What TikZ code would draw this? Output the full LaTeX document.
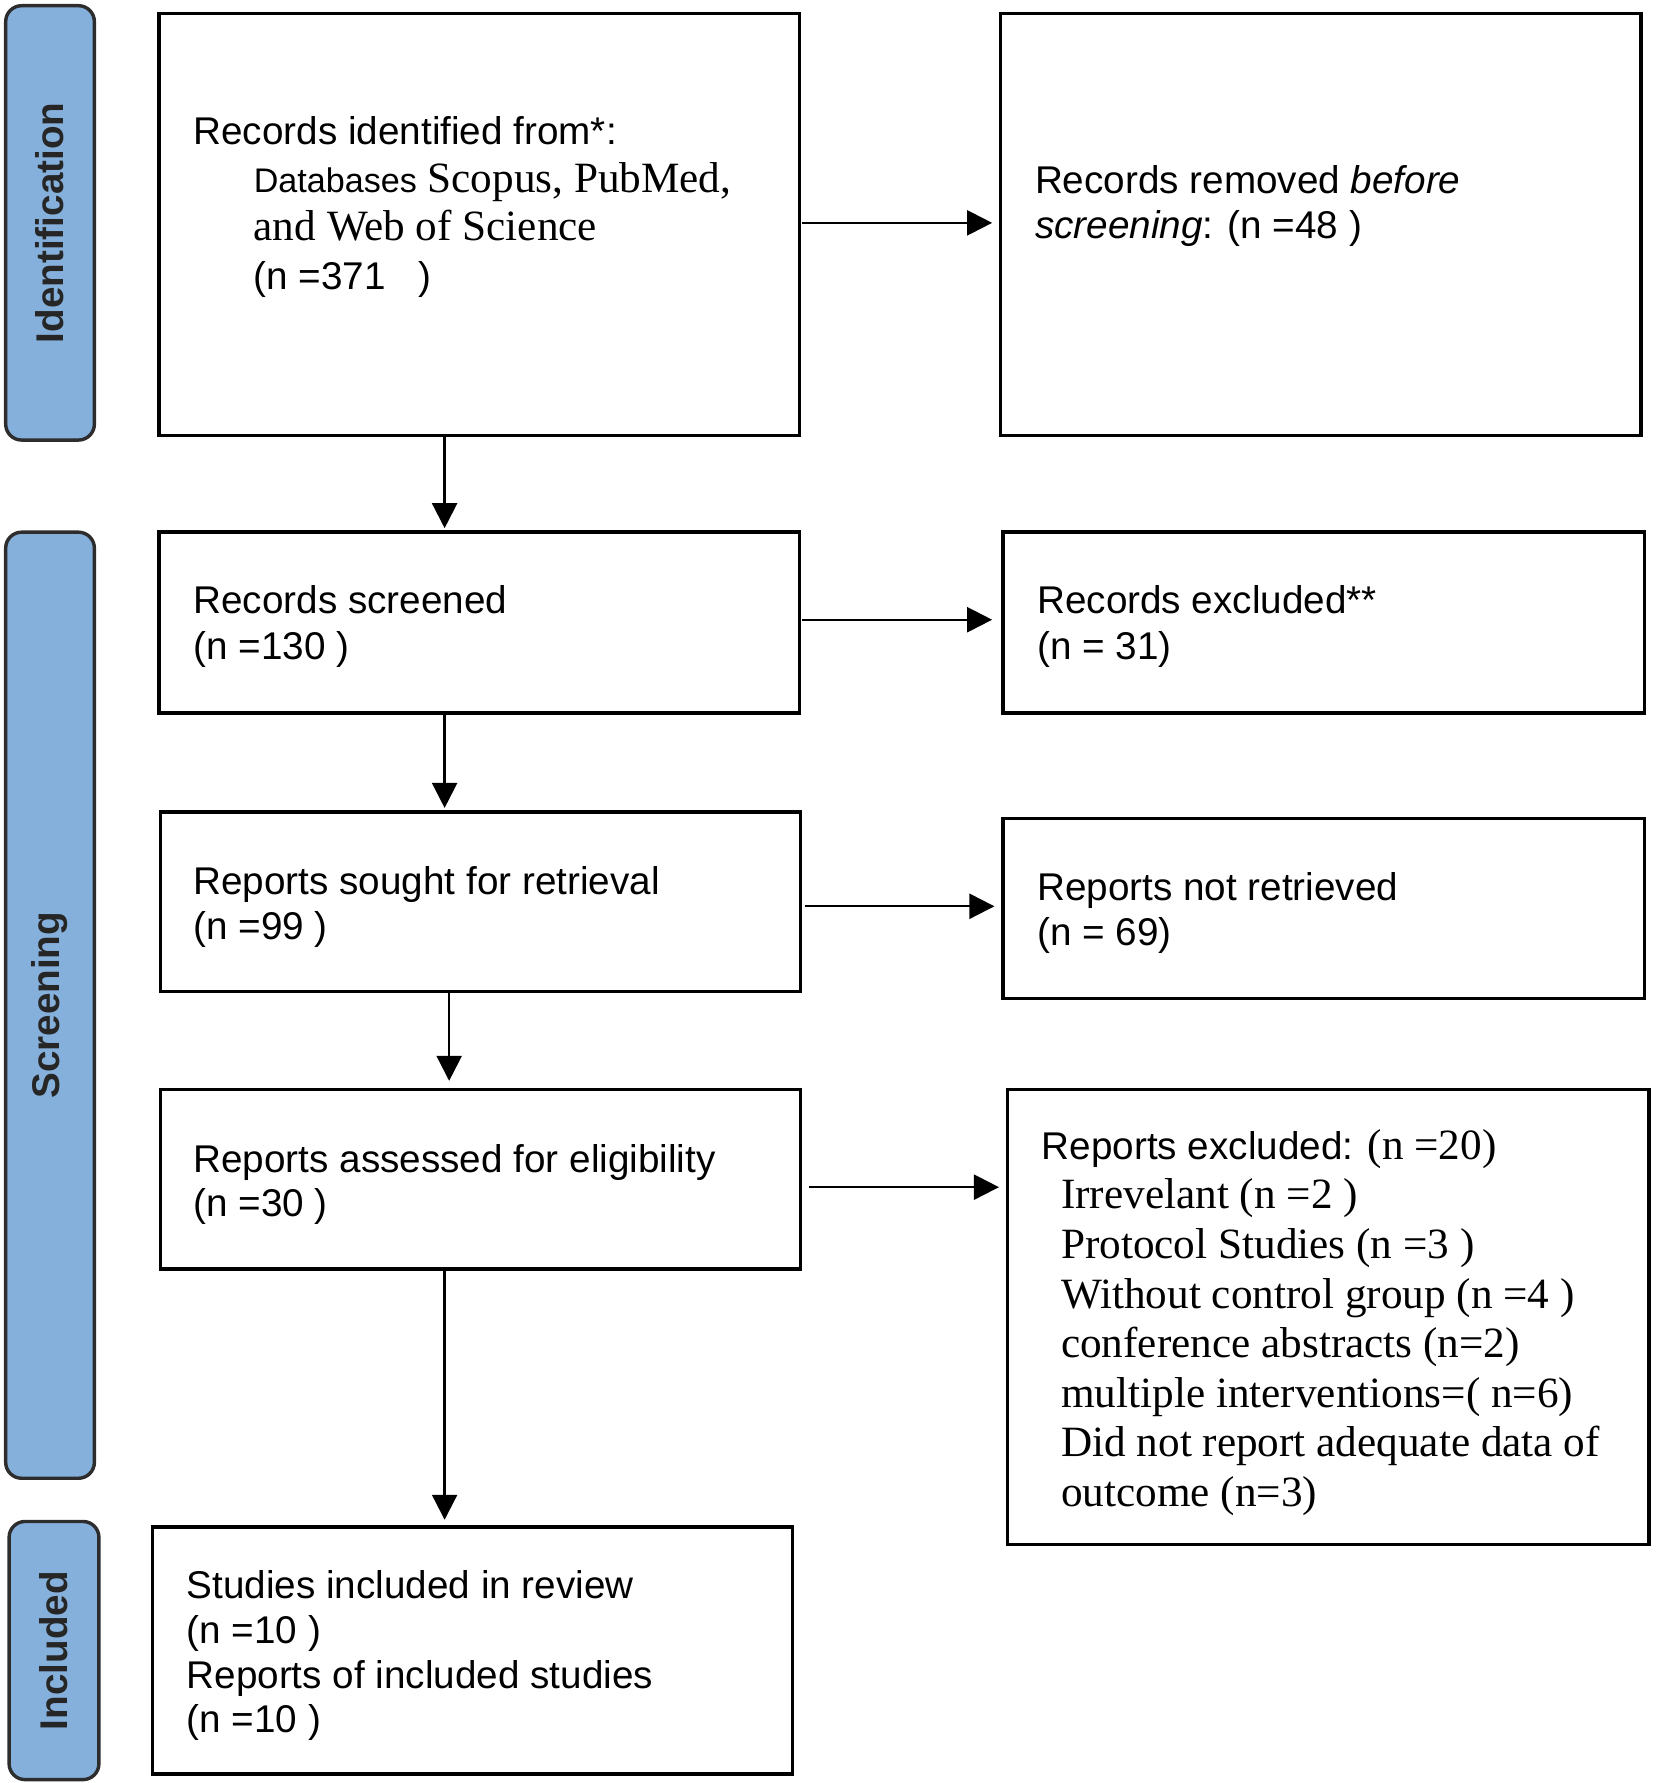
\documentclass[tikz,border=0pt]{standalone}
\usepackage{fontspec}
\setmainfont{Liberation Sans}
\newfontfamily\tms{Liberation Serif}
\usetikzlibrary{arrows.meta}
\definecolor{barblue}{RGB}{133,176,220}
\definecolor{bardark}{RGB}{45,45,45}
\begin{document}
\begin{tikzpicture}[x=1pt,y=1pt,
  box/.style={draw=black, line width=3pt, inner sep=0pt, fill=white},
  bar/.style={draw=bardark, line width=3pt, fill=barblue, rounded corners=14pt, inner sep=0pt},
  txt/.style={anchor=north west, inner sep=0pt, align=left},
  arr/.style={line width=2pt, -{Triangle[length=22pt,width=22pt]}},
  lab/.style={rotate=90, inner sep=0pt, text=black!85, font=\fontsize{34}{40}\selectfont\bfseries}]
\useasboundingbox (0,0) rectangle (1456,-1568);
\def\sz#1#2{\fontsize{#1}{#2}\selectfont}
% side bars
\node[bar, minimum width=78pt, minimum height=382pt] (bid) at (44,-196) {};
\node[bar, minimum width=78pt, minimum height=832pt] (bsc) at (44,-884) {};
\node[bar, minimum width=79pt, minimum height=227pt] (bin) at (47.5,-1451.5) {};
\node[lab] (lid) at (bid.center) {Identification};
\node[lab] (lsc) at (bsc.center) {Screening};
\node[lab] (lin) at (bin.center) {Included};
% boxes
\node[box, minimum width=563pt, minimum height=371pt] (idb) at (421.5,-197.5) {};
\node[box, minimum width=563pt, minimum height=371pt] (rem) at (1161.5,-197.5) {};
\node[box, minimum width=563pt, minimum height=159pt] (scr) at (421.5,-547.5) {};
\node[box, minimum width=564pt, minimum height=159pt] (exc) at (1164,-547.5) {};
\node[box, minimum width=563pt, minimum height=158pt] (sou) at (422.5,-793) {};
\node[box, minimum width=564pt, minimum height=158pt] (nre) at (1164,-799) {};
\node[box, minimum width=563pt, minimum height=158pt] (ass) at (422.5,-1037) {};
\node[box, minimum width=564pt, minimum height=400pt] (rex) at (1168,-1158) {};
\node[box, minimum width=563pt, minimum height=217pt] (inc) at (415.5,-1451.5) {};
% texts
\node[txt, font=\sz{34}{42.5}] (t1) at (170,-102) {Records identified from*:\\
  \hspace*{53pt}{\sz{30}{42.5}Databases} {\tms\sz{38}{42.5}Scopus, PubMed,}\\
  \hspace*{53pt}{\tms\sz{38}{42.5}and Web of Science}\\
  \hspace*{53pt}(n =371\ \ \ )};
\node[txt, font=\sz{34}{40}] (t2) at (910,-145) {Records removed \textit{before}\\\textit{screening}: (n =48 )};
\node[txt, font=\sz{34}{40}] (t3) at (170,-515) {Records screened\\(n =130 )};
\node[txt, font=\sz{34}{40}] (t4) at (912,-515) {Records excluded**\\(n = 31)};
\node[txt, font=\sz{34}{39}] (t5) at (170,-762) {Reports sought for retrieval\\(n =99 )};
\node[txt, font=\sz{34}{40}] (t6) at (912,-767) {Reports not retrieved\\(n = 69)};
\node[txt, font=\sz{34}{39}] (t7) at (170,-1006) {Reports assessed for eligibility\\(n =30 )};
\node[txt, font=\sz{34}{43.6}] (t8) at (916,-993) {Reports excluded: {\tms\sz{38}{43.6}(n =20)}\\
  \hspace*{17pt}{\tms\sz{38}{43.6}Irrevelant (n =2 )}\\
  \hspace*{17pt}{\tms\sz{38}{43.6}Protocol Studies (n =3 )}\\
  \hspace*{17pt}{\tms\sz{38}{43.6}Without control group (n =4 )}\\
  \hspace*{17pt}{\tms\sz{38}{43.6}conference abstracts (n=2)}\\
  \hspace*{17pt}{\tms\sz{38}{43.6}multiple interventions=( n=6)}\\
  \hspace*{17pt}{\tms\sz{38}{43.6}Did not report adequate data of}\\
  \hspace*{17pt}{\tms\sz{38}{43.6}outcome (n=3)}};
\node[txt, font=\sz{34}{39.3}] (t9) at (164,-1381) {Studies included in review\\(n =10 )\\Reports of included studies\\(n =10 )};
% arrows
\coordinate (v1) at (391,0);
\coordinate (v2) at (395,0);
\draw[arr, shorten >=2pt] (v1 |- idb.south) -- (v1 |- scr.north);
\draw[arr, shorten >=2pt] (v1 |- scr.south) -- (v1 |- sou.north);
\draw[arr, shorten >=6pt] (v2 |- sou.south) -- (v2 |- ass.north);
\draw[arr, shorten >=5pt] (v1 |- ass.south) -- (v1 |- inc.north);
\coordinate (h1) at (0,-196);
\coordinate (h2) at (0,-545);
\coordinate (h3) at (0,-797);
\coordinate (h4) at (0,-1044);
\draw[arr, shorten <=1pt, shorten >=6pt] (h1 -| idb.east) -- (h1 -| rem.west);
\draw[arr, shorten <=1pt, shorten >=8pt] (h2 -| scr.east) -- (h2 -| exc.west);
\draw[arr, shorten <=2pt, shorten >=6pt] (h3 -| sou.east) -- (h3 -| nre.west);
\draw[arr, shorten <=6pt, shorten >=6pt] (h4 -| ass.east) -- (h4 -| rex.west);
\end{tikzpicture}
\end{document}
